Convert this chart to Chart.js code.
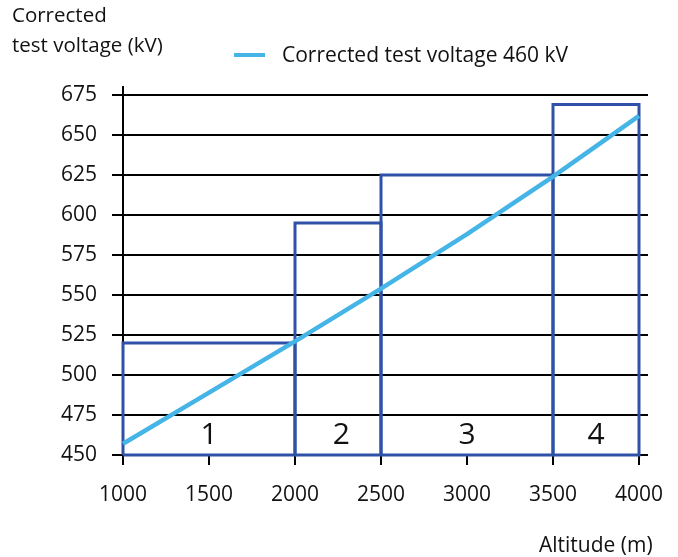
<!DOCTYPE html>
<html><head><meta charset="utf-8">
<script src="https://cdn.jsdelivr.net/npm/chart.js@4/dist/chart.umd.min.js"></script>
<style>html,body{margin:0;padding:0;background:#fff;}canvas{display:block}</style>
</head><body>
<canvas id="c" width="678" height="557"></canvas>
<script>
// ---- data ----
const altitudes = [1000, 1500, 2000, 2500, 3000, 3500, 4000];
const correctedVoltage = [457, 489, 521, 554, 588, 624, 662];
const rangeEdges = [1000, 2000, 2500, 3500, 4000];
const rangeTops = [520, 595, 625, 669];
const rangeLabels = ['1', '2', '3', '4'];
const rangeLabelX = [1500, 2270, 3000, 3750];
const rangeLabelY = 462;
const yTickValues = [450, 475, 500, 525, 550, 575, 600, 625, 650, 675];
const xTickValues = [1000, 1500, 2000, 2500, 3000, 3500, 4000];
const yTitleLines = ['Corrected', 'test voltage (kV)'];
const xTitle = 'Altitude (m)';
const seriesLabel = 'Corrected test voltage 460 kV';

const FONT = '"Open Sans", "DejaVu Sans", sans-serif';
const BOX_COLOR = '#2F52A8';
const LINE_COLOR = '#45B4E6';

const boxDatasets = rangeTops.map((top, i) => {
  const x0 = rangeEdges[i], x1 = rangeEdges[i + 1];
  const base = yTickValues[0];
  return {
    label: 'Range ' + rangeLabels[i],
    data: [{x: x0, y: base}, {x: x0, y: top}, {x: x1, y: top}, {x: x1, y: base}, {x: x0, y: base}],
    borderColor: BOX_COLOR,
    borderWidth: 3,
    pointRadius: 0,
    fill: false,
    tension: 0,
    clip: false,
    order: 2
  };
});

const lineDataset = {
  label: seriesLabel,
  data: altitudes.map((a, i) => ({x: a, y: correctedVoltage[i]})),
  borderColor: LINE_COLOR,
  borderWidth: 4.5,
  pointRadius: 0,
  fill: false,
  tension: 0,
  clip: false,
  order: 1
};

const framePlugin = {
  id: 'frame',
  beforeDatasetsDraw(chart) {
    const {ctx, chartArea: ca, scales: {x, y}} = chart;
    ctx.save();
    ctx.strokeStyle = '#000';
    ctx.lineWidth = 2;
    yTickValues.forEach(v => {
      const py = y.getPixelForValue(v);
      ctx.beginPath();
      ctx.moveTo(ca.left - 11, py);
      ctx.lineTo(ca.right + 9, py);
      ctx.stroke();
    });
    ctx.beginPath();
    ctx.moveTo(ca.left, ca.top - 9);
    ctx.lineTo(ca.left, ca.bottom + 10);
    ctx.stroke();
    xTickValues.forEach(v => {
      const px = x.getPixelForValue(v);
      ctx.beginPath();
      ctx.moveTo(px, ca.bottom);
      ctx.lineTo(px, ca.bottom + 10);
      ctx.stroke();
    });
    ctx.restore();
  },
  afterDatasetsDraw(chart) {
    const {ctx, scales: {x, y}} = chart;
    ctx.save();
    ctx.fillStyle = '#111';
    ctx.font = '30px ' + FONT;
    ctx.textAlign = 'center';
    ctx.textBaseline = 'middle';
    rangeLabels.forEach((t, i) => {
      ctx.fillText(t, x.getPixelForValue(rangeLabelX[i]), y.getPixelForValue(rangeLabelY));
    });
    ctx.restore();
  },
  afterDraw(chart) {
    const {ctx} = chart;
    ctx.save();
    ctx.fillStyle = '#111';
    ctx.textAlign = 'left';
    ctx.textBaseline = 'alphabetic';
    ctx.font = '20.5px ' + FONT;
    ctx.fillText(yTitleLines[0], 12, 22);
    ctx.fillText(yTitleLines[1], 12, 52);
    // legend
    ctx.strokeStyle = LINE_COLOR;
    ctx.lineWidth = 4;
    ctx.beginPath();
    ctx.moveTo(234, 55);
    ctx.lineTo(265, 55);
    ctx.stroke();
    ctx.font = '21px ' + FONT;
    ctx.fillText(seriesLabel, 282, 62);
    ctx.fillText(xTitle, 539, 552);
    ctx.restore();
  }
};

new Chart(document.getElementById('c'), {
  type: 'line',
  data: {datasets: [...boxDatasets, lineDataset]},
  options: {
    responsive: false,
    animation: false,
    devicePixelRatio: 1,
    layout: {padding: {left: 0, top: 95, right: 39, bottom: 0}},
    plugins: {legend: {display: false}, tooltip: {enabled: false}},
    scales: {
      x: {
        type: 'linear', min: 1000, max: 4000,
        afterBuildTicks: s => { s.ticks = xTickValues.map(v => ({value: v})); },
        afterFit: s => { s.height = 102; s.paddingLeft = 0; s.paddingRight = 0; },
        grid: {display: false, drawTicks: false},
        border: {display: false},
        ticks: {font: {family: FONT, size: 21}, color: '#111', padding: 27, maxRotation: 0,
                callback: v => String(v)}
      },
      y: {
        type: 'linear', min: 450, max: 675,
        afterBuildTicks: s => { s.ticks = yTickValues.map(v => ({value: v})); },
        afterFit: s => { s.width = 123; s.paddingTop = 0; s.paddingBottom = 0; },
        grid: {display: false, drawTicks: false},
        border: {display: false},
        ticks: {font: {family: FONT, size: 21}, color: '#111', padding: 26,
                callback: v => String(v)}
      }
    }
  },
  plugins: [framePlugin]
});
</script>
</body></html>
